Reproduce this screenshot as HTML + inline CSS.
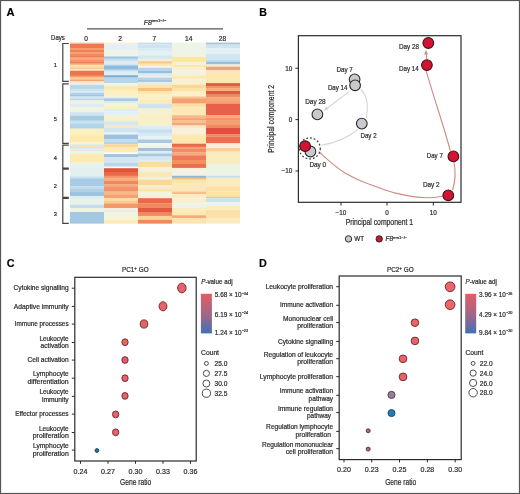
<!DOCTYPE html>
<html><head><meta charset="utf-8"><style>
html,body{margin:0;padding:0;background:#fff;}
body{width:520px;height:494px;overflow:hidden;position:relative;}
svg{position:absolute;left:0;top:0;font-family:"Liberation Sans", sans-serif;will-change:transform;}
svg text{fill:#2a2a2a;stroke:#2a2a2a;stroke-width:0.2px;}
</style></head><body>
<svg width="520" height="494" viewBox="0 0 520 494">
<rect x="0.5" y="0.5" width="519" height="493" fill="#fff" stroke="#555" stroke-width="1.2"/>
<text x="6.6" y="15.9" font-size="11.2" text-anchor="start" font-weight="bold" style="fill:#000;stroke:#000;stroke-width:0.15px">A</text>
<text x="143.8" y="25" font-size="7" font-style="italic">F8<tspan font-size="4.3" dy="-3" font-style="normal">em1−/−</tspan></text>
<line x1="87" y1="28.9" x2="223" y2="28.9" stroke="#555" stroke-width="1.2"/>
<text x="51.1" y="40.3" font-size="6.8" text-anchor="start" textLength="13.7" lengthAdjust="spacingAndGlyphs" >Days</text>
<text x="86" y="40.5" font-size="6.6" text-anchor="middle" >0</text>
<text x="120.2" y="40.5" font-size="6.6" text-anchor="middle" >2</text>
<text x="154.3" y="40.5" font-size="6.6" text-anchor="middle" >7</text>
<text x="188.7" y="40.5" font-size="6.6" text-anchor="middle" >14</text>
<text x="222.5" y="40.5" font-size="6.6" text-anchor="middle" >28</text>
<rect x="70" y="42.6" width="34" height="1.55" fill="#f8b898"/>
<rect x="70" y="44.0" width="34" height="4.15" fill="#f07850"/>
<rect x="70" y="48.0" width="34" height="1.85" fill="#f59a68"/>
<rect x="70" y="49.7" width="34" height="2.45" fill="#f08058"/>
<rect x="70" y="52.0" width="34" height="2.15" fill="#f7a070"/>
<rect x="70" y="54.0" width="34" height="1.95" fill="#f08a5c"/>
<rect x="70" y="55.8" width="34" height="1.95" fill="#ef7c56"/>
<rect x="70" y="57.6" width="34" height="1.95" fill="#f8a878"/>
<rect x="70" y="59.4" width="34" height="1.95" fill="#f39064"/>
<rect x="70" y="61.2" width="34" height="2.65" fill="#f08058"/>
<rect x="70" y="63.7" width="34" height="1.45" fill="#f9b888"/>
<rect x="70" y="65.0" width="34" height="2.45" fill="#fde0a8"/>
<rect x="70" y="67.3" width="34" height="1.95" fill="#fcc898"/>
<rect x="70" y="69.1" width="34" height="1.75" fill="#fde8c0"/>
<rect x="70" y="70.7" width="34" height="5.25" fill="#ee7450"/>
<rect x="70" y="75.8" width="34" height="1.95" fill="#f5a06c"/>
<rect x="70" y="77.6" width="34" height="2.05" fill="#fdd090"/>
<rect x="70" y="79.5" width="34" height="1.95" fill="#f6a470"/>
<rect x="70" y="81.3" width="34" height="1.95" fill="#fde8c8"/>
<rect x="70" y="83.1" width="34" height="2.05" fill="#e0eef4"/>
<rect x="70" y="85.0" width="34" height="4.35" fill="#b8d8ea"/>
<rect x="70" y="89.2" width="34" height="1.95" fill="#c8e2ee"/>
<rect x="70" y="91.0" width="34" height="1.95" fill="#dcecf4"/>
<rect x="70" y="92.8" width="34" height="1.95" fill="#b0d2e8"/>
<rect x="70" y="94.6" width="34" height="2.05" fill="#9cc4e0"/>
<rect x="70" y="96.5" width="34" height="1.95" fill="#d4e8f2"/>
<rect x="70" y="98.3" width="34" height="1.85" fill="#b8d8ea"/>
<rect x="70" y="100.0" width="34" height="1.95" fill="#e8f0e8"/>
<rect x="70" y="101.8" width="34" height="1.95" fill="#f4f2d8"/>
<rect x="70" y="103.6" width="34" height="3.85" fill="#dcecf2"/>
<rect x="70" y="107.3" width="34" height="5.05" fill="#eef4e0"/>
<rect x="70" y="112.2" width="34" height="3.75" fill="#cfe4ef"/>
<rect x="70" y="115.8" width="34" height="5.05" fill="#a8cce2"/>
<rect x="70" y="120.7" width="34" height="3.15" fill="#c8e2ee"/>
<rect x="70" y="123.7" width="34" height="5.05" fill="#b0d4e8"/>
<rect x="70" y="128.6" width="34" height="6.75" fill="#fbf0c0"/>
<rect x="70" y="135.2" width="34" height="6.85" fill="#fdeaa8"/>
<rect x="70" y="141.9" width="34" height="2.55" fill="#f6f2dc"/>
<rect x="70" y="144.3" width="34" height="2.05" fill="#d8e8ec"/>
<rect x="70" y="146.2" width="34" height="1.95" fill="#f8dcb0"/>
<rect x="70" y="148.0" width="34" height="3.15" fill="#dcecf0"/>
<rect x="70" y="151.0" width="34" height="2.65" fill="#eef4ea"/>
<rect x="70" y="153.5" width="34" height="9.25" fill="#fdeab0"/>
<rect x="70" y="162.6" width="34" height="5.45" fill="#e8f2ec"/>
<rect x="70" y="167.9" width="34" height="8.65" fill="#e4f0f0"/>
<rect x="70" y="176.4" width="34" height="2.15" fill="#c4dff0"/>
<rect x="70" y="178.4" width="34" height="8.05" fill="#a8cce6"/>
<rect x="70" y="186.3" width="34" height="2.15" fill="#c0dcee"/>
<rect x="70" y="188.3" width="34" height="3.45" fill="#b0d0e6"/>
<rect x="70" y="191.6" width="34" height="4.75" fill="#9cc4e0"/>
<rect x="70" y="196.2" width="34" height="3.45" fill="#dfeeee"/>
<rect x="70" y="199.5" width="34" height="5.35" fill="#e8f2e8"/>
<rect x="70" y="204.7" width="34" height="3.45" fill="#c4dcec"/>
<rect x="70" y="208.0" width="34" height="4.15" fill="#eef2e0"/>
<rect x="70" y="212.0" width="34" height="11.65" fill="#a4c8e2"/>
<rect x="104" y="42.6" width="34" height="1.75" fill="#fcf0c0"/>
<rect x="104" y="44.2" width="34" height="5.95" fill="#e4f0f4"/>
<rect x="104" y="50.0" width="34" height="6.55" fill="#eef4e8"/>
<rect x="104" y="56.4" width="34" height="2.55" fill="#a4c8e2"/>
<rect x="104" y="58.8" width="34" height="2.55" fill="#c8e0ee"/>
<rect x="104" y="61.2" width="34" height="3.25" fill="#dcecf2"/>
<rect x="104" y="64.3" width="34" height="1.35" fill="#c4def0"/>
<rect x="104" y="65.5" width="34" height="4.35" fill="#8cbadb"/>
<rect x="104" y="69.7" width="34" height="2.05" fill="#c4def0"/>
<rect x="104" y="71.6" width="34" height="3.75" fill="#e0eef4"/>
<rect x="104" y="75.2" width="34" height="2.55" fill="#7eaed4"/>
<rect x="104" y="77.6" width="34" height="5.65" fill="#b8d6ea"/>
<rect x="104" y="83.1" width="34" height="2.55" fill="#eef4f0"/>
<rect x="104" y="85.5" width="34" height="4.65" fill="#fbeab0"/>
<rect x="104" y="90.0" width="34" height="6.65" fill="#fcf0c4"/>
<rect x="104" y="96.5" width="34" height="1.95" fill="#e4f0f0"/>
<rect x="104" y="98.3" width="34" height="3.05" fill="#a8c8e0"/>
<rect x="104" y="101.2" width="34" height="2.55" fill="#d8ecf4"/>
<rect x="104" y="103.6" width="34" height="2.55" fill="#f4f4d8"/>
<rect x="104" y="106.0" width="34" height="3.25" fill="#faf0c0"/>
<rect x="104" y="109.1" width="34" height="2.55" fill="#dcecf4"/>
<rect x="104" y="111.5" width="34" height="3.85" fill="#e0f0f8"/>
<rect x="104" y="115.2" width="34" height="2.55" fill="#f0f0d8"/>
<rect x="104" y="117.6" width="34" height="3.85" fill="#f8f0c8"/>
<rect x="104" y="121.3" width="34" height="3.85" fill="#d4e8f0"/>
<rect x="104" y="125.0" width="34" height="3.15" fill="#f4e8d4"/>
<rect x="104" y="128.0" width="34" height="4.35" fill="#d0e4f0"/>
<rect x="104" y="132.2" width="34" height="2.55" fill="#e4f0f4"/>
<rect x="104" y="134.6" width="34" height="4.45" fill="#9cc0e0"/>
<rect x="104" y="138.9" width="34" height="3.15" fill="#c4dcec"/>
<rect x="104" y="141.9" width="34" height="2.55" fill="#b4d4e8"/>
<rect x="104" y="144.3" width="34" height="3.25" fill="#fcd898"/>
<rect x="104" y="147.4" width="34" height="4.95" fill="#fdecb0"/>
<rect x="104" y="152.2" width="34" height="2.05" fill="#f8f8f0"/>
<rect x="104" y="154.1" width="34" height="3.15" fill="#a0c4e0"/>
<rect x="104" y="157.1" width="34" height="5.65" fill="#d4e6f2"/>
<rect x="104" y="162.6" width="34" height="4.15" fill="#b8d8ea"/>
<rect x="104" y="166.6" width="34" height="1.75" fill="#f8f8f8"/>
<rect x="104" y="168.2" width="34" height="3.95" fill="#e05538"/>
<rect x="104" y="172.0" width="34" height="3.95" fill="#e86848"/>
<rect x="104" y="175.8" width="34" height="2.15" fill="#f49468"/>
<rect x="104" y="177.8" width="34" height="2.75" fill="#f8b080"/>
<rect x="104" y="180.4" width="34" height="4.05" fill="#f08a5c"/>
<rect x="104" y="184.3" width="34" height="2.15" fill="#f6a878"/>
<rect x="104" y="186.3" width="34" height="5.45" fill="#f29468"/>
<rect x="104" y="191.6" width="34" height="3.45" fill="#f8b888"/>
<rect x="104" y="194.9" width="34" height="3.45" fill="#f4a070"/>
<rect x="104" y="198.2" width="34" height="2.75" fill="#fde0a0"/>
<rect x="104" y="200.8" width="34" height="2.75" fill="#fbc890"/>
<rect x="104" y="203.4" width="34" height="4.75" fill="#f49868"/>
<rect x="104" y="208.0" width="34" height="2.15" fill="#fbeedc"/>
<rect x="104" y="210.0" width="34" height="2.75" fill="#e4f0f0"/>
<rect x="104" y="212.6" width="34" height="7.45" fill="#f4f4dc"/>
<rect x="104" y="219.9" width="34" height="3.75" fill="#fbecb8"/>
<rect x="138" y="42.6" width="34" height="1.75" fill="#c8dcea"/>
<rect x="138" y="44.2" width="34" height="3.85" fill="#cfe4f0"/>
<rect x="138" y="47.9" width="34" height="3.75" fill="#dcecf4"/>
<rect x="138" y="51.5" width="34" height="3.85" fill="#e4f0f4"/>
<rect x="138" y="55.2" width="34" height="3.75" fill="#d4e8f2"/>
<rect x="138" y="58.8" width="34" height="2.55" fill="#f0f0dc"/>
<rect x="138" y="61.2" width="34" height="2.65" fill="#f9c890"/>
<rect x="138" y="63.7" width="34" height="2.55" fill="#fce8b0"/>
<rect x="138" y="66.1" width="34" height="1.95" fill="#f4f2e0"/>
<rect x="138" y="67.9" width="34" height="3.25" fill="#b8d4ea"/>
<rect x="138" y="71.0" width="34" height="2.55" fill="#98bede"/>
<rect x="138" y="73.4" width="34" height="2.55" fill="#d8eaf4"/>
<rect x="138" y="75.8" width="34" height="1.95" fill="#f0f0e0"/>
<rect x="138" y="77.6" width="34" height="2.05" fill="#b4d0e8"/>
<rect x="138" y="79.5" width="34" height="2.55" fill="#a4c4e0"/>
<rect x="138" y="81.9" width="34" height="2.55" fill="#e0eef0"/>
<rect x="138" y="84.3" width="34" height="3.85" fill="#fce4a8"/>
<rect x="138" y="88.0" width="34" height="3.15" fill="#f9c080"/>
<rect x="138" y="91.0" width="34" height="3.15" fill="#fde8b0"/>
<rect x="138" y="94.0" width="34" height="6.15" fill="#fbf0c8"/>
<rect x="138" y="100.0" width="34" height="3.75" fill="#fbecb8"/>
<rect x="138" y="103.6" width="34" height="5.05" fill="#d0e4f0"/>
<rect x="138" y="108.5" width="34" height="5.05" fill="#f4f2d4"/>
<rect x="138" y="113.4" width="34" height="12.25" fill="#f8f0c8"/>
<rect x="138" y="125.5" width="34" height="3.85" fill="#dcecf4"/>
<rect x="138" y="129.2" width="34" height="3.75" fill="#c8dff0"/>
<rect x="138" y="132.8" width="34" height="3.85" fill="#d8eaf2"/>
<rect x="138" y="136.5" width="34" height="3.15" fill="#e8f4f4"/>
<rect x="138" y="139.5" width="34" height="3.75" fill="#a8c8e6"/>
<rect x="138" y="143.1" width="34" height="2.65" fill="#f4f4e8"/>
<rect x="138" y="145.6" width="34" height="2.55" fill="#eef4ec"/>
<rect x="138" y="148.0" width="34" height="3.15" fill="#a0c0dc"/>
<rect x="138" y="151.0" width="34" height="2.65" fill="#dcecf4"/>
<rect x="138" y="153.5" width="34" height="3.15" fill="#a8c8e0"/>
<rect x="138" y="156.5" width="34" height="3.65" fill="#d4e8f2"/>
<rect x="138" y="160.0" width="34" height="2.15" fill="#e0ecec"/>
<rect x="138" y="162.0" width="34" height="5.35" fill="#fcdca0"/>
<rect x="138" y="167.2" width="34" height="4.75" fill="#f4f2dc"/>
<rect x="138" y="171.8" width="34" height="5.45" fill="#fbe8b8"/>
<rect x="138" y="177.1" width="34" height="2.75" fill="#f0f0e0"/>
<rect x="138" y="179.7" width="34" height="5.45" fill="#fcd898"/>
<rect x="138" y="185.0" width="34" height="3.45" fill="#f8ecd0"/>
<rect x="138" y="188.3" width="34" height="3.45" fill="#fbe4a8"/>
<rect x="138" y="191.6" width="34" height="6.75" fill="#f6f2dc"/>
<rect x="138" y="198.2" width="34" height="5.35" fill="#ec6848"/>
<rect x="138" y="203.4" width="34" height="4.75" fill="#f08860"/>
<rect x="138" y="208.0" width="34" height="4.75" fill="#e45a40"/>
<rect x="138" y="212.6" width="34" height="3.45" fill="#f08860"/>
<rect x="138" y="215.9" width="34" height="4.15" fill="#fbd49a"/>
<rect x="138" y="219.9" width="34" height="3.75" fill="#f08a5c"/>
<rect x="172" y="42.6" width="34" height="12.75" fill="#eef4e8"/>
<rect x="172" y="55.2" width="34" height="1.95" fill="#f4f2dc"/>
<rect x="172" y="57.0" width="34" height="5.55" fill="#fbe8a0"/>
<rect x="172" y="62.4" width="34" height="2.65" fill="#f4f2dc"/>
<rect x="172" y="64.9" width="34" height="2.55" fill="#fae8b0"/>
<rect x="172" y="67.3" width="34" height="3.15" fill="#f6f0d0"/>
<rect x="172" y="70.3" width="34" height="2.65" fill="#f8f2d8"/>
<rect x="172" y="72.8" width="34" height="2.55" fill="#f0f2e4"/>
<rect x="172" y="75.2" width="34" height="4.45" fill="#fbeab8"/>
<rect x="172" y="79.5" width="34" height="3.75" fill="#f8f0d4"/>
<rect x="172" y="83.1" width="34" height="1.95" fill="#fbecc0"/>
<rect x="172" y="84.9" width="34" height="3.25" fill="#fcd898"/>
<rect x="172" y="88.0" width="34" height="3.75" fill="#fbe4a8"/>
<rect x="172" y="91.6" width="34" height="5.05" fill="#fbf0c8"/>
<rect x="172" y="96.5" width="34" height="1.95" fill="#f9c288"/>
<rect x="172" y="98.3" width="34" height="5.45" fill="#f4a070"/>
<rect x="172" y="103.6" width="34" height="3.85" fill="#fde0a8"/>
<rect x="172" y="107.3" width="34" height="8.05" fill="#fde8b8"/>
<rect x="172" y="115.2" width="34" height="3.15" fill="#f8b888"/>
<rect x="172" y="118.2" width="34" height="1.95" fill="#f4a070"/>
<rect x="172" y="120.0" width="34" height="2.65" fill="#f9c090"/>
<rect x="172" y="122.5" width="34" height="3.15" fill="#f5a878"/>
<rect x="172" y="125.5" width="34" height="3.25" fill="#fce8c8"/>
<rect x="172" y="128.6" width="34" height="4.95" fill="#f8f2dc"/>
<rect x="172" y="133.4" width="34" height="2.55" fill="#fcecc0"/>
<rect x="172" y="135.8" width="34" height="8.05" fill="#fde8b0"/>
<rect x="172" y="143.7" width="34" height="3.25" fill="#e86848"/>
<rect x="172" y="146.8" width="34" height="1.95" fill="#f49c70"/>
<rect x="172" y="148.6" width="34" height="3.75" fill="#f08a60"/>
<rect x="172" y="152.2" width="34" height="3.25" fill="#f6a880"/>
<rect x="172" y="155.3" width="34" height="4.85" fill="#ee7a58"/>
<rect x="172" y="160.0" width="34" height="4.15" fill="#f29060"/>
<rect x="172" y="164.0" width="34" height="4.05" fill="#ec6c4c"/>
<rect x="172" y="167.9" width="34" height="2.15" fill="#f8f0e0"/>
<rect x="172" y="169.9" width="34" height="6.05" fill="#f4f2e4"/>
<rect x="172" y="175.8" width="34" height="2.15" fill="#8cb8d8"/>
<rect x="172" y="177.8" width="34" height="2.05" fill="#f8c088"/>
<rect x="172" y="179.7" width="34" height="4.15" fill="#fce4b0"/>
<rect x="172" y="183.7" width="34" height="8.05" fill="#fbe8b8"/>
<rect x="172" y="191.6" width="34" height="2.75" fill="#f8c088"/>
<rect x="172" y="194.2" width="34" height="4.15" fill="#fbecc8"/>
<rect x="172" y="198.2" width="34" height="5.35" fill="#f8f0d0"/>
<rect x="172" y="203.4" width="34" height="4.75" fill="#eef2e8"/>
<rect x="172" y="208.0" width="34" height="3.45" fill="#fbecc0"/>
<rect x="172" y="211.3" width="34" height="4.15" fill="#fce8b0"/>
<rect x="172" y="215.3" width="34" height="2.75" fill="#f6a878"/>
<rect x="172" y="217.9" width="34" height="5.75" fill="#fce4b0"/>
<rect x="206" y="42.6" width="34" height="2.05" fill="#a8c4d8"/>
<rect x="206" y="44.5" width="34" height="3.55" fill="#cfe4f0"/>
<rect x="206" y="47.9" width="34" height="6.25" fill="#e4f0f4"/>
<rect x="206" y="54.0" width="34" height="6.15" fill="#d0e6f2"/>
<rect x="206" y="60.0" width="34" height="1.95" fill="#c0dcee"/>
<rect x="206" y="61.8" width="34" height="2.65" fill="#98bee0"/>
<rect x="206" y="64.3" width="34" height="2.55" fill="#f8e8d0"/>
<rect x="206" y="66.7" width="34" height="3.75" fill="#f5a470"/>
<rect x="206" y="70.3" width="34" height="2.65" fill="#fbe4c0"/>
<rect x="206" y="72.8" width="34" height="10.45" fill="#fde8b0"/>
<rect x="206" y="83.1" width="34" height="3.15" fill="#e45c40"/>
<rect x="206" y="86.1" width="34" height="2.05" fill="#f29060"/>
<rect x="206" y="88.0" width="34" height="3.15" fill="#f8b080"/>
<rect x="206" y="91.0" width="34" height="3.75" fill="#e45a40"/>
<rect x="206" y="94.6" width="34" height="2.65" fill="#f08c60"/>
<rect x="206" y="97.1" width="34" height="3.15" fill="#f6a878"/>
<rect x="206" y="100.1" width="34" height="3.65" fill="#f5a272"/>
<rect x="206" y="103.6" width="34" height="11.75" fill="#e8604a"/>
<rect x="206" y="115.2" width="34" height="2.55" fill="#f6a878"/>
<rect x="206" y="117.6" width="34" height="3.25" fill="#f29468"/>
<rect x="206" y="120.7" width="34" height="3.75" fill="#f5a070"/>
<rect x="206" y="124.3" width="34" height="3.85" fill="#f08860"/>
<rect x="206" y="128.0" width="34" height="6.15" fill="#e45040"/>
<rect x="206" y="134.0" width="34" height="2.65" fill="#f08c60"/>
<rect x="206" y="136.5" width="34" height="6.75" fill="#ec7050"/>
<rect x="206" y="143.1" width="34" height="1.35" fill="#f8e0d0"/>
<rect x="206" y="144.3" width="34" height="3.85" fill="#fdf0d8"/>
<rect x="206" y="148.0" width="34" height="3.75" fill="#fcd090"/>
<rect x="206" y="151.6" width="34" height="2.55" fill="#fce8c0"/>
<rect x="206" y="154.0" width="34" height="10.15" fill="#fbecc0"/>
<rect x="206" y="164.0" width="34" height="4.05" fill="#f0f2e4"/>
<rect x="206" y="167.9" width="34" height="8.05" fill="#eef4e4"/>
<rect x="206" y="175.8" width="34" height="2.15" fill="#c8e0ec"/>
<rect x="206" y="177.8" width="34" height="8.65" fill="#fbecc0"/>
<rect x="206" y="186.3" width="34" height="5.45" fill="#fce0a8"/>
<rect x="206" y="191.6" width="34" height="5.35" fill="#fde4a8"/>
<rect x="206" y="196.8" width="34" height="1.55" fill="#f8c090"/>
<rect x="206" y="198.2" width="34" height="4.05" fill="#c8e2f0"/>
<rect x="206" y="202.1" width="34" height="4.05" fill="#eef2ec"/>
<rect x="206" y="206.0" width="34" height="4.15" fill="#fbecc0"/>
<rect x="206" y="210.0" width="34" height="8.05" fill="#fce0a8"/>
<rect x="206" y="217.9" width="34" height="5.75" fill="#fbecc0"/>
<path d="M68.8 43.5 H62.8 V81.3 H68.8 M68.8 83.8 H62.8 V143.3 H68.8 M68.8 145.2 H62.8 V168.2 H68.8 M68.8 169.2 H62.8 V197.3 H68.8 M68.8 198.5 H62.8 V223.3 H68.8" fill="none" stroke="#444" stroke-width="1.2"/>
<text x="55.3" y="67.3" font-size="5.6" text-anchor="middle" >1</text>
<text x="55.3" y="121" font-size="5.6" text-anchor="middle" >5</text>
<text x="55.3" y="160" font-size="5.6" text-anchor="middle" >4</text>
<text x="55.3" y="188" font-size="5.6" text-anchor="middle" >2</text>
<text x="55.3" y="216.2" font-size="5.6" text-anchor="middle" >3</text>
<text x="259.3" y="15.5" font-size="10.6" text-anchor="start" font-weight="bold" style="fill:#000;stroke:#000;stroke-width:0.15px">B</text>
<g fill="none" stroke="#d6d6d6" stroke-width="1.1"><path d="M321.4 145.3 Q342 142 357.8 129.5"/><path d="M366.3 118 C368.5 106 367.5 96 361 89.5"/><path d="M349.4 91.4 L325.5 109.5"/></g>
<path d="M323.2 111 l5.5 -1.8 l-2.4 -3 z" fill="#d6d6d6"/>
<g fill="none" stroke="#d08a82" stroke-width="1.1"><path d="M318.7 151.5 C326 158 334 166 345 173 C355 179 362 182 370 184.6 C380 188 388 191.5 396.5 193.4 C406 195.6 416 197.6 425.4 197.7 C432 197.8 438 197 443 196.2"/><path d="M452.5 190 C455.5 181 455.5 170 454 162"/><path d="M450.3 150.8 C445 130 433 95 426.2 70.8"/><path d="M426.8 59.5 L426.2 53"/></g>
<path d="M426 50 l-2 4.5 l4 -0.2 z" fill="#d08a82"/>
<circle cx="310.4" cy="151.5" r="5.35" fill="#c9cace" stroke="#2b2b2b" stroke-width="1.1"/>
<circle cx="305.1" cy="146.2" r="5.35" fill="#d31234" stroke="#3a1418" stroke-width="1.1"/>
<circle cx="309.8" cy="148.4" r="10.5" fill="none" stroke="#3a3a3a" stroke-width="1.2" stroke-dasharray="1.8 2"/>
<circle cx="361.8" cy="123.6" r="5.35" fill="#c9cace" stroke="#2b2b2b" stroke-width="1.1"/>
<circle cx="354.6" cy="79.3" r="5.35" fill="#c9cace" stroke="#2b2b2b" stroke-width="1.1"/>
<circle cx="355.1" cy="85.3" r="5.35" fill="#c9cace" stroke="#2b2b2b" stroke-width="1.1"/>
<circle cx="317.4" cy="114.4" r="5.35" fill="#c9cace" stroke="#2b2b2b" stroke-width="1.1"/>
<circle cx="448.3" cy="195.3" r="5.35" fill="#d31234" stroke="#3a1418" stroke-width="1.1"/>
<circle cx="453.4" cy="156.4" r="5.35" fill="#d31234" stroke="#3a1418" stroke-width="1.1"/>
<circle cx="426.9" cy="65.1" r="5.35" fill="#d31234" stroke="#3a1418" stroke-width="1.1"/>
<circle cx="428.3" cy="43" r="5.35" fill="#d31234" stroke="#3a1418" stroke-width="1.1"/>
<text x="309.4" y="166.8" font-size="6.9" text-anchor="start" textLength="16.8" lengthAdjust="spacingAndGlyphs" >Day 0</text>
<text x="360.5" y="137.8" font-size="6.9" text-anchor="start" textLength="16.1" lengthAdjust="spacingAndGlyphs" >Day 2</text>
<text x="336.4" y="71.6" font-size="6.9" text-anchor="start" textLength="16.4" lengthAdjust="spacingAndGlyphs" >Day 7</text>
<text x="327.9" y="89.7" font-size="6.9" text-anchor="start" textLength="19.6" lengthAdjust="spacingAndGlyphs" >Day 14</text>
<text x="305.2" y="103.9" font-size="6.9" text-anchor="start" textLength="20.4" lengthAdjust="spacingAndGlyphs" >Day 28</text>
<text x="399" y="48.8" font-size="6.9" text-anchor="start" textLength="20.1" lengthAdjust="spacingAndGlyphs" >Day 28</text>
<text x="399" y="71.1" font-size="6.9" text-anchor="start" textLength="19.8" lengthAdjust="spacingAndGlyphs" >Day 14</text>
<text x="426.8" y="158.4" font-size="6.9" text-anchor="start" textLength="16" lengthAdjust="spacingAndGlyphs" >Day 7</text>
<text x="422.9" y="187.0" font-size="6.9" text-anchor="start" textLength="16.8" lengthAdjust="spacingAndGlyphs" >Day 2</text>
<rect x="298.4" y="35.7" width="162.6" height="166.6" fill="none" stroke="#2b2b2b" stroke-width="1.2"/>
<path d="M341 202.3 v3.2 M387 202.3 v3.2 M433.3 202.3 v3.2 M298.4 68.2 h-3 M298.4 119.6 h-3 M298.4 171 h-3" stroke="#2b2b2b" stroke-width="1"/>
<text x="341" y="215" font-size="6.4" text-anchor="middle" >−10</text>
<text x="387" y="215" font-size="6.4" text-anchor="middle" >0</text>
<text x="433.3" y="215" font-size="6.4" text-anchor="middle" >10</text>
<text x="292.4" y="70.5" font-size="6.4" text-anchor="end" >10</text>
<text x="292.4" y="121.89999999999999" font-size="6.4" text-anchor="end" >0</text>
<text x="292.4" y="173.3" font-size="6.4" text-anchor="end" >−10</text>
<text x="345.7" y="225.3" font-size="8.2" text-anchor="start" textLength="67.4" lengthAdjust="spacingAndGlyphs" >Principal component 1</text>
<text transform="translate(274.2 152.7) rotate(-90)" x="0" y="0" font-size="8.2" textLength="67.8" lengthAdjust="spacingAndGlyphs">Principal component 2</text>
<circle cx="348.5" cy="238.9" r="3.2" fill="#c9cace" stroke="#2b2b2b" stroke-width="1"/>
<text x="354.2" y="241.3" font-size="6.4" text-anchor="start" textLength="9.8" lengthAdjust="spacingAndGlyphs" >WT</text>
<circle cx="379.2" cy="238.9" r="3.2" fill="#d31234" stroke="#2b2b2b" stroke-width="1"/>
<text x="385.4" y="241.4" font-size="6.6" font-style="italic">F8<tspan font-size="4.2" dy="-2.8" font-style="normal">em1−/−</tspan></text>
<text x="6.8" y="267.3" font-size="10.8" text-anchor="start" font-weight="bold" style="fill:#000;stroke:#000;stroke-width:0.15px">C</text>
<rect x="74.8" y="277.3" width="121.39999999999999" height="183.7" fill="none" stroke="#2b2b2b" stroke-width="1.2"/>
<text x="122" y="272.3" font-size="6.6" textLength="26.6" lengthAdjust="spacingAndGlyphs">PC1<tspan font-size="4.6" dy="-2.4">+</tspan><tspan dy="2.4"> GO</tspan></text>
<text x="13.5" y="290.3" font-size="6.6" text-anchor="start" textLength="55.1" lengthAdjust="spacingAndGlyphs" >Cytokine signalling</text>
<text x="13.8" y="308.5" font-size="6.6" text-anchor="start" textLength="54.8" lengthAdjust="spacingAndGlyphs" >Adaptive immunity</text>
<text x="14.75" y="326.20000000000005" font-size="6.6" text-anchor="start" textLength="53.85" lengthAdjust="spacingAndGlyphs" >Immune processes</text>
<text x="39.4" y="340.5" font-size="6.6" text-anchor="start" textLength="29.2" lengthAdjust="spacingAndGlyphs" >Leukocyte</text>
<text x="40.6" y="348.0" font-size="6.6" text-anchor="start" textLength="28.1" lengthAdjust="spacingAndGlyphs" >activation</text>
<text x="27.5" y="362.20000000000005" font-size="6.6" text-anchor="start" textLength="41.2" lengthAdjust="spacingAndGlyphs" >Cell activation</text>
<text x="33.1" y="376.2" font-size="6.6" text-anchor="start" textLength="35.6" lengthAdjust="spacingAndGlyphs" >Lymphocyte</text>
<text x="27.5" y="383.7" font-size="6.6" text-anchor="start" textLength="41.2" lengthAdjust="spacingAndGlyphs" >differentiation</text>
<text x="39.4" y="394.4" font-size="6.6" text-anchor="start" textLength="29.2" lengthAdjust="spacingAndGlyphs" >Leukocyte</text>
<text x="41.9" y="401.9" font-size="6.6" text-anchor="start" textLength="26.8" lengthAdjust="spacingAndGlyphs" >immunity</text>
<text x="15.25" y="416.20000000000005" font-size="6.6" text-anchor="start" textLength="53.35" lengthAdjust="spacingAndGlyphs" >Effector processes</text>
<text x="38.9" y="430.5" font-size="6.6" text-anchor="start" textLength="29.7" lengthAdjust="spacingAndGlyphs" >Leukocyte</text>
<text x="32.8" y="438.0" font-size="6.6" text-anchor="start" textLength="35.9" lengthAdjust="spacingAndGlyphs" >proliferation</text>
<text x="33.0" y="448.1" font-size="6.6" text-anchor="start" textLength="35.7" lengthAdjust="spacingAndGlyphs" >Lymphocyte</text>
<text x="32.8" y="455.6" font-size="6.6" text-anchor="start" textLength="35.9" lengthAdjust="spacingAndGlyphs" >proliferation</text>
<text x="80.5" y="473.8" font-size="7.2" text-anchor="middle" textLength="13.8" lengthAdjust="spacingAndGlyphs" >0.24</text>
<text x="108" y="473.8" font-size="7.2" text-anchor="middle" textLength="13.8" lengthAdjust="spacingAndGlyphs" >0.27</text>
<text x="135.5" y="473.8" font-size="7.2" text-anchor="middle" textLength="13.8" lengthAdjust="spacingAndGlyphs" >0.30</text>
<text x="163" y="473.8" font-size="7.2" text-anchor="middle" textLength="13.8" lengthAdjust="spacingAndGlyphs" >0.33</text>
<text x="190.5" y="473.8" font-size="7.2" text-anchor="middle" textLength="13.8" lengthAdjust="spacingAndGlyphs" >0.36</text>
<path d="M74.8 288.2 h-3 M74.8 306.4 h-3 M74.8 324.1 h-3 M74.8 342.5 h-3 M74.8 360.1 h-3 M74.8 378.2 h-3 M74.8 396.4 h-3 M74.8 414.1 h-3 M74.8 432.5 h-3 M74.8 450.1 h-3 M80.5 461 v2.8 M108 461 v2.8 M135.5 461 v2.8 M163 461 v2.8 M190.5 461 v2.8" stroke="#2b2b2b" stroke-width="1"/>
<text x="120" y="485.3" font-size="8.2" text-anchor="start" textLength="31.2" lengthAdjust="spacingAndGlyphs" >Gene ratio</text>
<ellipse cx="181.85" cy="288" rx="4.2" ry="4.85" fill="#e9606a" stroke="#6e2a2e" stroke-width="0.95"/>
<ellipse cx="163" cy="306.3" rx="3.95" ry="4.55" fill="#e8626a" stroke="#6e2a2e" stroke-width="0.95"/>
<ellipse cx="144" cy="324" rx="3.75" ry="4.1" fill="#e6665f" stroke="#6e2a2e" stroke-width="0.95"/>
<ellipse cx="125" cy="342.2" rx="3.15" ry="3.35" fill="#e66a60" stroke="#6e2a2e" stroke-width="0.95"/>
<ellipse cx="125" cy="360" rx="3.15" ry="3.35" fill="#e45c68" stroke="#6e2a2e" stroke-width="0.95"/>
<ellipse cx="125" cy="378.2" rx="3.15" ry="3.35" fill="#e5636a" stroke="#6e2a2e" stroke-width="0.95"/>
<ellipse cx="125" cy="395.9" rx="3.15" ry="3.35" fill="#e5636a" stroke="#6e2a2e" stroke-width="0.95"/>
<ellipse cx="115.65" cy="414.4" rx="3.15" ry="3.4" fill="#e6626c" stroke="#6e2a2e" stroke-width="0.95"/>
<ellipse cx="115.65" cy="432.3" rx="3.15" ry="3.4" fill="#e6626c" stroke="#6e2a2e" stroke-width="0.95"/>
<ellipse cx="96.9" cy="450.5" rx="1.85" ry="1.95" fill="#246f92" stroke="#1d4a5e" stroke-width="0.95"/>
<text x="201.2" y="283.6" font-size="6.4" textLength="31.4" lengthAdjust="spacingAndGlyphs"><tspan font-style="italic">P</tspan>-value adj</text>
<defs><linearGradient id="gC" x1="0" y1="0" x2="0" y2="1"><stop offset="0" stop-color="#e45c64"/><stop offset="0.5" stop-color="#a46686"/><stop offset="1" stop-color="#4270b6"/></linearGradient></defs>
<rect x="200.89999999999998" y="293.8" width="11" height="39.6" fill="url(#gC)"/>
<text x="214.79999999999998" y="297.40000000000003" font-size="6.4">5.68 × 10<tspan font-size="3.8" dy="-2.6">−34</tspan></text>
<text x="214.79999999999998" y="316.5" font-size="6.4">6.19 × 10<tspan font-size="3.8" dy="-2.6">−24</tspan></text>
<text x="214.79999999999998" y="334.7" font-size="6.4">1.24 × 10<tspan font-size="3.8" dy="-2.6">−23</tspan></text>
<text x="201.1" y="354.8" font-size="6.6" text-anchor="start" textLength="17.9" lengthAdjust="spacingAndGlyphs" >Count</text>
<circle cx="206.4" cy="363.4" r="1.95" fill="none" stroke="#3a3a3a" stroke-width="0.9"/>
<text x="214.5" y="366.0" font-size="6.4" text-anchor="start" textLength="12.8" lengthAdjust="spacingAndGlyphs" >25.0</text>
<circle cx="206.4" cy="373.4" r="3.07" fill="none" stroke="#3a3a3a" stroke-width="0.9"/>
<text x="214.5" y="376.0" font-size="6.4" text-anchor="start" textLength="12.8" lengthAdjust="spacingAndGlyphs" >27.5</text>
<circle cx="206.4" cy="383.5" r="3.5" fill="none" stroke="#3a3a3a" stroke-width="0.9"/>
<text x="214.5" y="386.1" font-size="6.4" text-anchor="start" textLength="12.8" lengthAdjust="spacingAndGlyphs" >30.0</text>
<circle cx="206.4" cy="393.2" r="4.1" fill="none" stroke="#3a3a3a" stroke-width="0.9"/>
<text x="214.5" y="395.8" font-size="6.4" text-anchor="start" textLength="12.8" lengthAdjust="spacingAndGlyphs" >32.5</text>
<text x="259.1" y="267" font-size="10.8" text-anchor="start" font-weight="bold" style="fill:#000;stroke:#000;stroke-width:0.15px">D</text>
<rect x="339.2" y="276" width="122.0" height="183.60000000000002" fill="none" stroke="#2b2b2b" stroke-width="1.2"/>
<text x="387" y="272.3" font-size="6.6" textLength="26.6" lengthAdjust="spacingAndGlyphs">PC2<tspan font-size="4.6" dy="-2.4">+</tspan><tspan dy="2.4"> GO</tspan></text>
<text x="265.6" y="288.8" font-size="6.6" text-anchor="start" textLength="67.5" lengthAdjust="spacingAndGlyphs" >Leukocyte proliferation</text>
<text x="280.0" y="307.40000000000003" font-size="6.6" text-anchor="start" textLength="53.1" lengthAdjust="spacingAndGlyphs" >Immune activation</text>
<text x="283.1" y="320.6" font-size="6.6" text-anchor="start" textLength="50.0" lengthAdjust="spacingAndGlyphs" >Mononuclear cell</text>
<text x="297.2" y="328.1" font-size="6.6" text-anchor="start" textLength="35.9" lengthAdjust="spacingAndGlyphs" >proliferation</text>
<text x="278.0" y="343.5" font-size="6.6" text-anchor="start" textLength="55.1" lengthAdjust="spacingAndGlyphs" >Cytokine signalling</text>
<text x="263.7" y="356.7" font-size="6.6" text-anchor="start" textLength="69.4" lengthAdjust="spacingAndGlyphs" >Regulation of leukocyte</text>
<text x="297.2" y="364.2" font-size="6.6" text-anchor="start" textLength="35.9" lengthAdjust="spacingAndGlyphs" >proliferation</text>
<text x="259.8" y="378.8" font-size="6.6" text-anchor="start" textLength="73.3" lengthAdjust="spacingAndGlyphs" >Lymphocyte proliferation</text>
<text x="279.8" y="393.3" font-size="6.6" text-anchor="start" textLength="53.3" lengthAdjust="spacingAndGlyphs" >Immune activation</text>
<text x="308.6" y="400.8" font-size="6.6" text-anchor="start" textLength="24.5" lengthAdjust="spacingAndGlyphs" >pathway</text>
<text x="277.9" y="410.6" font-size="6.6" text-anchor="start" textLength="55.2" lengthAdjust="spacingAndGlyphs" >Immune regulation</text>
<text x="307.0" y="418.1" font-size="6.6" text-anchor="start" textLength="24.0" lengthAdjust="spacingAndGlyphs" >pathway</text>
<text x="266.1" y="429.4" font-size="6.6" text-anchor="start" textLength="67.0" lengthAdjust="spacingAndGlyphs" >Regulation lymphocyte</text>
<text x="295.5" y="436.9" font-size="6.6" text-anchor="start" textLength="35.5" lengthAdjust="spacingAndGlyphs" >proliferation</text>
<text x="261.9" y="446.7" font-size="6.6" text-anchor="start" textLength="71.2" lengthAdjust="spacingAndGlyphs" >Regulation mononuclear</text>
<text x="285.7" y="454.2" font-size="6.6" text-anchor="start" textLength="47.4" lengthAdjust="spacingAndGlyphs" >cell proliferation</text>
<text x="344" y="472.2" font-size="7.2" text-anchor="middle" textLength="13.8" lengthAdjust="spacingAndGlyphs" >0.20</text>
<text x="371.7" y="472.2" font-size="7.2" text-anchor="middle" textLength="13.8" lengthAdjust="spacingAndGlyphs" >0.23</text>
<text x="399.5" y="472.2" font-size="7.2" text-anchor="middle" textLength="13.8" lengthAdjust="spacingAndGlyphs" >0.25</text>
<text x="427.4" y="472.2" font-size="7.2" text-anchor="middle" textLength="13.8" lengthAdjust="spacingAndGlyphs" >0.28</text>
<text x="455.2" y="472.2" font-size="7.2" text-anchor="middle" textLength="13.8" lengthAdjust="spacingAndGlyphs" >0.30</text>
<path d="M339.2 286.7 h-3 M339.2 305.3 h-3 M339.2 322.6 h-3 M339.2 341.4 h-3 M339.2 358.7 h-3 M339.2 376.7 h-3 M339.2 395.3 h-3 M339.2 412.6 h-3 M339.2 431.4 h-3 M339.2 448.7 h-3 M344 459.6 v2.8 M371.7 459.6 v2.8 M399.5 459.6 v2.8 M427.4 459.6 v2.8 M455.2 459.6 v2.8" stroke="#2b2b2b" stroke-width="1"/>
<text x="385.2" y="485.3" font-size="8.2" text-anchor="start" textLength="31" lengthAdjust="spacingAndGlyphs" >Gene ratio</text>
<ellipse cx="450.1" cy="286.8" rx="4.85" ry="4.85" fill="#ec6568" stroke="#6e2a2e" stroke-width="0.95"/>
<ellipse cx="450.1" cy="304.7" rx="4.85" ry="4.85" fill="#ec6568" stroke="#6e2a2e" stroke-width="0.95"/>
<ellipse cx="414.95" cy="322.7" rx="3.8" ry="3.8" fill="#ea6366" stroke="#6e2a2e" stroke-width="0.95"/>
<ellipse cx="414.95" cy="340.9" rx="3.8" ry="3.8" fill="#ea6366" stroke="#6e2a2e" stroke-width="0.95"/>
<ellipse cx="403" cy="358.8" rx="3.85" ry="3.85" fill="#ea6366" stroke="#6e2a2e" stroke-width="0.95"/>
<ellipse cx="403" cy="376.9" rx="3.85" ry="3.85" fill="#ea6366" stroke="#6e2a2e" stroke-width="0.95"/>
<ellipse cx="391.5" cy="394.9" rx="3.55" ry="3.55" fill="#9b7d9a" stroke="#4e3e50" stroke-width="0.95"/>
<ellipse cx="391.5" cy="413.1" rx="3.5" ry="3.5" fill="#1f7db8" stroke="#1c4460" stroke-width="0.95"/>
<ellipse cx="368.2" cy="430.8" rx="2" ry="2" fill="#a86b7e" stroke="#5a3040" stroke-width="0.95"/>
<ellipse cx="368.2" cy="449.1" rx="2" ry="2" fill="#a86b7e" stroke="#5a3040" stroke-width="0.95"/>
<text x="465.5" y="283.6" font-size="6.4" textLength="31.4" lengthAdjust="spacingAndGlyphs"><tspan font-style="italic">P</tspan>-value adj</text>
<defs><linearGradient id="gD" x1="0" y1="0" x2="0" y2="1"><stop offset="0" stop-color="#e45c64"/><stop offset="0.5" stop-color="#a46686"/><stop offset="1" stop-color="#4270b6"/></linearGradient></defs>
<rect x="465.2" y="293.8" width="11" height="39.6" fill="url(#gD)"/>
<text x="479.1" y="297.40000000000003" font-size="6.4">3.96 × 10<tspan font-size="3.8" dy="-2.6">−26</tspan></text>
<text x="479.1" y="316.5" font-size="6.4">4.29 × 10<tspan font-size="3.8" dy="-2.6">−20</tspan></text>
<text x="479.1" y="334.7" font-size="6.4">9.84 × 10<tspan font-size="3.8" dy="-2.6">−20</tspan></text>
<text x="465.4" y="354.8" font-size="6.6" text-anchor="start" textLength="17.9" lengthAdjust="spacingAndGlyphs" >Count</text>
<circle cx="473.1" cy="363.4" r="1.95" fill="none" stroke="#3a3a3a" stroke-width="0.9"/>
<text x="479.8" y="366.0" font-size="6.4" text-anchor="start" textLength="12.8" lengthAdjust="spacingAndGlyphs" >22.0</text>
<circle cx="473.1" cy="373.1" r="3.1" fill="none" stroke="#3a3a3a" stroke-width="0.9"/>
<text x="479.8" y="375.70000000000005" font-size="6.4" text-anchor="start" textLength="12.8" lengthAdjust="spacingAndGlyphs" >24.0</text>
<circle cx="473.1" cy="382.9" r="3.6" fill="none" stroke="#3a3a3a" stroke-width="0.9"/>
<text x="479.8" y="385.5" font-size="6.4" text-anchor="start" textLength="12.8" lengthAdjust="spacingAndGlyphs" >26.0</text>
<circle cx="473.1" cy="392.7" r="4.2" fill="none" stroke="#3a3a3a" stroke-width="0.9"/>
<text x="479.8" y="395.3" font-size="6.4" text-anchor="start" textLength="12.8" lengthAdjust="spacingAndGlyphs" >28.0</text>
</svg>
</body></html>
